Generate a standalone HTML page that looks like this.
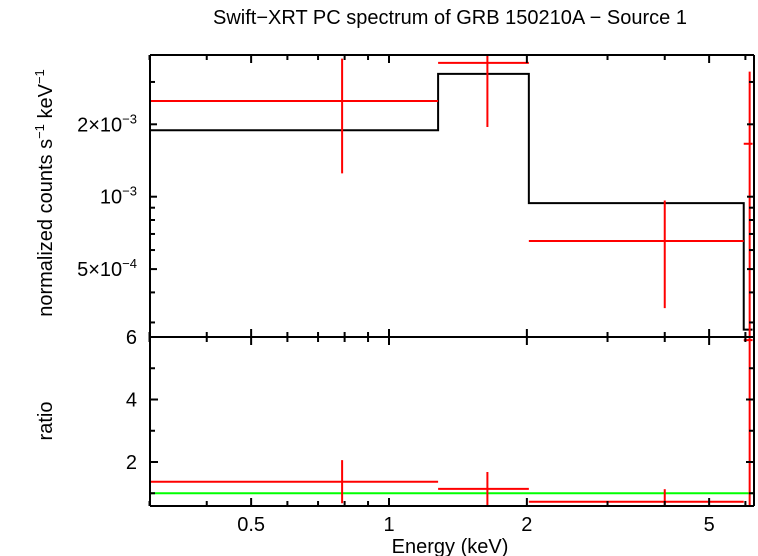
<!DOCTYPE html>
<html><head><meta charset="utf-8"><style>
body{margin:0;background:#fff;}
svg{display:block;font-family:"Liberation Sans",sans-serif;}
</style></head><body>
<svg id="c" width="758" height="556" viewBox="0 0 758 556">
<text x="450" y="24" font-size="20" text-anchor="middle">Swift−XRT PC spectrum of GRB 150210A − Source 1</text>
<text x="450" y="553" font-size="20" text-anchor="middle">Energy (keV)</text>
<text transform="translate(52,193) rotate(-90)" font-size="20" text-anchor="middle">normalized counts s<tspan font-size="13" dy="-8">−1</tspan><tspan dy="8"> keV</tspan><tspan font-size="13" dy="-8">−1</tspan></text>
<text transform="translate(52,421) rotate(-90)" font-size="20" text-anchor="middle">ratio</text>
<g id="g"></g>
</svg>
<script>
const binLo=[0.3,1.28,2.02,5.95];
const binHi=[1.28,2.02,5.95,6.22];
const binCenter=[0.79,1.64,4.0,6.13];
const dataVals=[2.5e-3,3.6e-3,6.54e-4,1.66e-3];
const dataErr=[1.25e-3,1.65e-3,3.1e-4,1.65e-3];
const modelVals=[1.89e-3,3.24e-3,9.4e-4,2.8e-4];
const ratioVals=[1.37,1.14,0.73,5.9];
const ratioErr=[0.69,0.54,0.4,5.9];
const xTickVals=[0.5,1,2,5];
const xTickLabels=["0.5","1","2","5"];
const xMinor=[0.3,0.4,0.6,0.7,0.8,0.9,3,4,6];
const yTopMajor=[2e-3,1e-3,5e-4];
const yTopLabels=[["2×10","−3"],["10","−3"],["5×10","−4"]];
const yTopMinor=[3e-3,9e-4,8e-4,7e-4,6e-4,4e-4,3e-4];
const rTickVals=[2,4,6];
const rTickLabels=["2","4","6"];
const rMinor=[1,3,5];

const L=150,R=754,T=55,M=337,B=506;
const X=e=>389+458*Math.log10(e);
const YT=v=>196.7-240.5*(Math.log10(v)+3);
const YR=v=>337+(6-v)*31.25;
const g=document.getElementById('g');
const NS='http://www.w3.org/2000/svg';
function ln(x1,y1,x2,y2,c,name,w){const l=document.createElementNS(NS,'line');
l.setAttribute('x1',x1);l.setAttribute('y1',y1);l.setAttribute('x2',x2);l.setAttribute('y2',y2);
l.setAttribute('stroke',c);l.setAttribute('stroke-width',w||2);


g.appendChild(l);return l;}
function tx(x,y,s,anchor,name){const t=document.createElementNS(NS,'text');
t.setAttribute('x',x);t.setAttribute('y',y);t.setAttribute('font-size','20');t.setAttribute('text-anchor',anchor);
t.textContent=s;


g.appendChild(t);return t;}
const clipT=v=>Math.max(T,Math.min(M,v));
const clipB=v=>Math.max(M,Math.min(B,v));
let d='';
for(let i=0;i<binLo.length;i++){const y=clipT(YT(modelVals[i]));d+=(i?'L':'M')+X(binLo[i])+' '+y+' L'+X(binHi[i])+' '+y+' ';}
const p=document.createElementNS(NS,'path');p.setAttribute('d',d);p.setAttribute('fill','none');p.setAttribute('stroke','#000');p.setAttribute('stroke-width','2');


g.appendChild(p);
for(let i=0;i<binLo.length;i++){
 const y=YT(dataVals[i]);
 ln(X(binLo[i]),y,X(binHi[i]),y,'#f00','data-xerr-'+i);
 const lo=dataVals[i]-dataErr[i];
 ln(X(binCenter[i]),clipT(YT(dataVals[i]+dataErr[i])),X(binCenter[i]),lo>0?clipT(YT(lo)):M,'#f00','data-yerr-'+i);
}
ln(L,YR(1),R,YR(1),'#0f0','ratio-unity-line');
for(let i=0;i<binLo.length;i++){
 const y=YR(ratioVals[i]);
 ln(X(binLo[i]),y,X(binHi[i]),y,'#f00','ratio-xerr-'+i);
 ln(X(binCenter[i]),clipB(YR(ratioVals[i]+ratioErr[i])),X(binCenter[i]),clipB(YR(ratioVals[i]-ratioErr[i])),'#f00','ratio-yerr-'+i);
}
ln(L,T,R,T,'#000','top-frame');ln(L,M,R,M,'#000','panel-divider');ln(L,B,R,B,'#000','bottom-frame');
ln(L,T,L,B,'#000','left-frame');ln(R,T,R,B,'#000','right-frame');
xTickVals.forEach((v,i)=>{const x=X(v);
 ln(x,T,x,T+8,'#000','x-tick-top');ln(x,M-8,x,M+8,'#000','x-tick-mid');ln(x,B,x,B-8,'#000','x-tick-bottom');
 tx(x,531,xTickLabels[i],'middle','x-tick-label');});
xMinor.forEach(v=>{const x=X(v);
 ln(x,T,x,T+5,'#000','x-minor-top');ln(x,M-5,x,M+5,'#000','x-minor-mid');ln(x,B,x,B-5,'#000','x-minor-bottom');});
yTopMajor.forEach((v,i)=>{const y=YT(v);
 ln(L,y,L+7,y,'#000','y-tick-left');ln(R,y,R-7,y,'#000','y-tick-right');
 const t=tx(137,y+7,'','end','y-tick-label');
 const a=document.createElementNS(NS,'tspan');a.textContent=yTopLabels[i][0];t.appendChild(a);
 const b=document.createElementNS(NS,'tspan');b.setAttribute('font-size','13');b.setAttribute('dy','-8');b.textContent=yTopLabels[i][1];t.appendChild(b);});
yTopMinor.forEach(v=>{const y=YT(v);ln(L,y,L+5,y,'#000','y-minor-left');ln(R,y,R-5,y,'#000','y-minor-right');});
rTickVals.forEach((v,i)=>{const y=YR(v);
 ln(L,y,L+8,y,'#000','ratio-tick-left');ln(R,y,R-8,y,'#000','ratio-tick-right');
 tx(137,y+7,rTickLabels[i],'end','ratio-tick-label');});
rMinor.forEach(v=>{const y=YR(v);ln(L,y,L+5,y,'#000','ratio-minor-left');ln(R,y,R-5,y,'#000','ratio-minor-right');});
</script>
</body></html>
